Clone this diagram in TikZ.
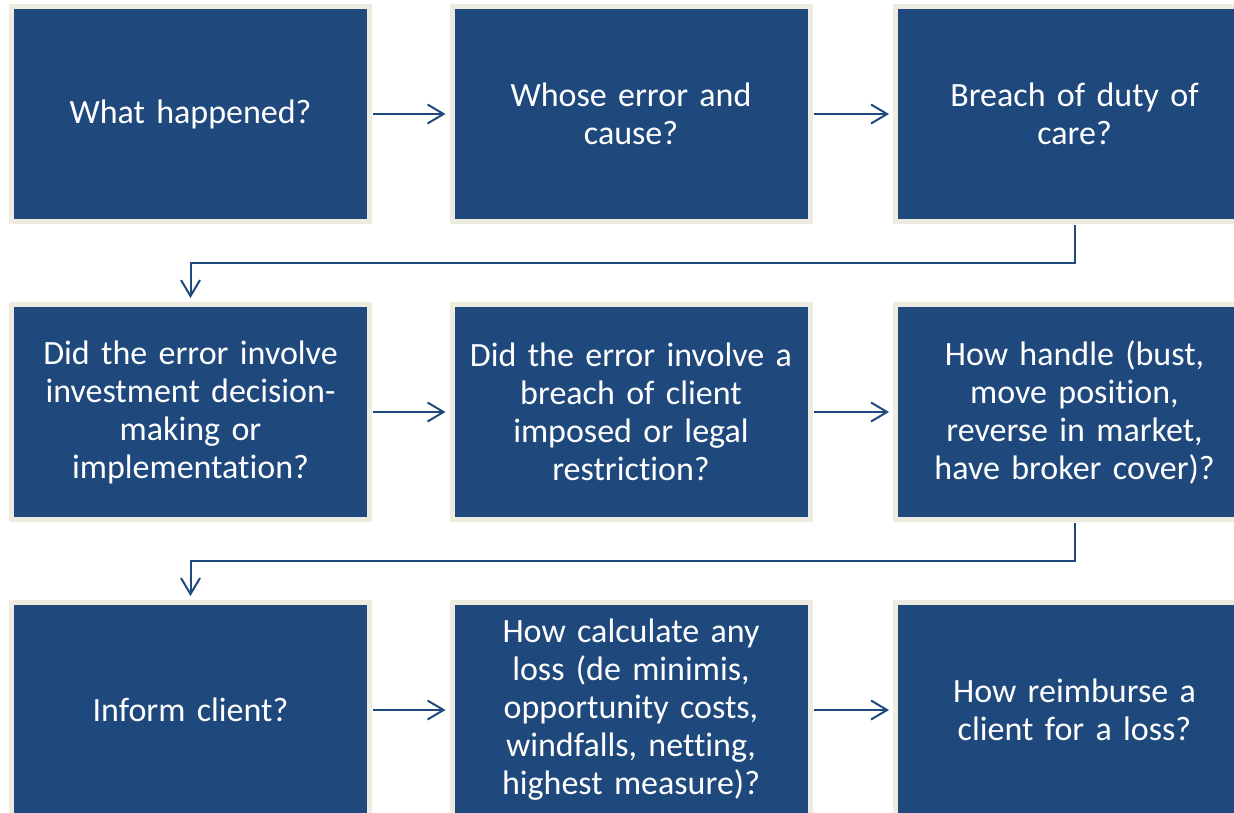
\documentclass[tikz,border=0pt]{standalone}
\usepackage{fontspec}
\setmainfont{Carlito}[RawFeature=-liga]
\usetikzlibrary{arrows.meta}
\definecolor{boxblue}{HTML}{1F497D}
\definecolor{boxrim}{HTML}{EEECE1}

\begin{document}
\begin{tikzpicture}[x=1pt, y=-1pt,
    stepbox/.style={draw=boxrim, line width=5pt, fill=boxblue, text=white,
        minimum width=358pt, minimum height=215pt, text width=345pt,
        align=center, inner sep=0pt, font=\fontsize{34}{38}\selectfont},
    link/.style={draw=boxblue, line width=2pt,
        -{Straight Barb[length=16pt, width=19pt]}, shorten <=1pt, shorten >=4pt}]
    \clip (0, 0) rectangle (1234, 812);

    \node[stepbox] (happened) at (190.5, 114) {What happened?};
    \node[stepbox] (whose) at (631, 114) {Whose error and\\cause?};
    \node[stepbox] (breach) at (1074.5, 114) {Breach of duty of\\care?};

    \node[stepbox] (involve) at (190.5, 412) {Did the error involve\\investment decision-\\making or\\implementation?};
    \node[stepbox] (restrict) at (631, 412) {Did the error involve a\\breach of client\\imposed or legal\\restriction?};
    \node[stepbox] (handle) at (1074.5, 412) {How handle (bust,\\move position,\\reverse in market,\\have broker cover)?};

    \node[stepbox] (inform) at (190.5, 710) {Inform client?};
    \node[stepbox] (calc) at (631, 710) {How calculate any\\loss (de minimis,\\opportunity costs,\\windfalls, netting,\\highest measure)?};
    \node[stepbox] (reimburse) at (1074.5, 710) {How reimburse a\\client for a loss?};

    \draw[link] (happened) -- (whose);
    \draw[link] (whose) -- (breach);
    \draw[link] (breach.south) -- ++(0, 39) -| (involve.north);

    \draw[link] (involve) -- (restrict);
    \draw[link] (restrict) -- (handle);
    \draw[link] (handle.south) -- ++(0, 39) -| (inform.north);

    \draw[link] (inform) -- (calc);
    \draw[link] (calc) -- (reimburse);
\end{tikzpicture}
\end{document}
